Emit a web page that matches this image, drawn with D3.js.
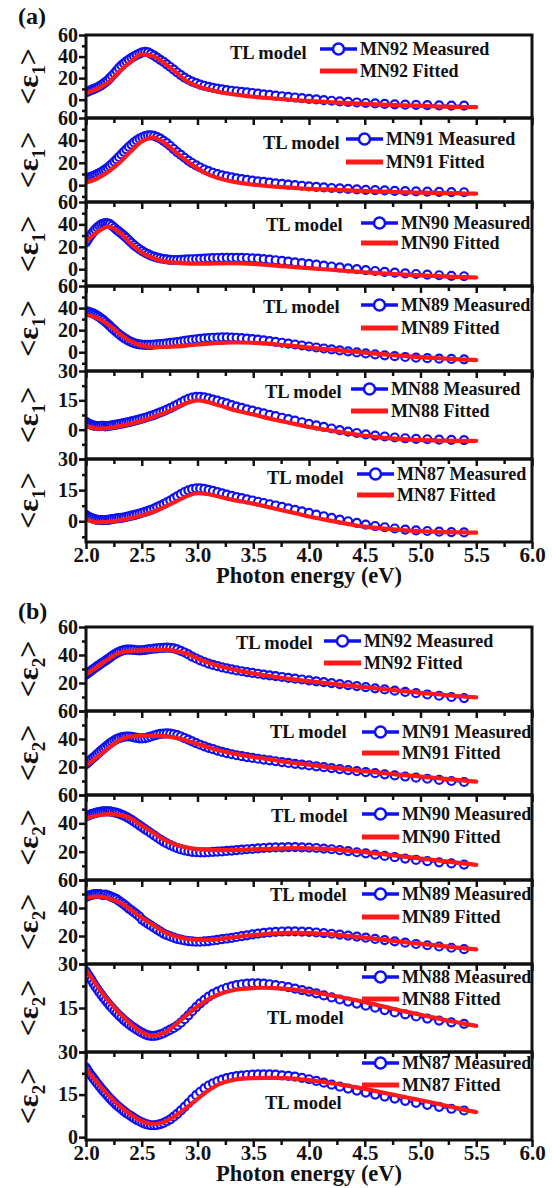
<!DOCTYPE html>
<html>
<head>
<meta charset="utf-8">
<script src="https://cdn.jsdelivr.net/npm/d3@7"></script>
<style>
  html, body { margin: 0; padding: 0; background: #fff; }
  svg text { font-family: "Liberation Serif", "Times New Roman", serif; font-weight: bold; fill: #111; }
</style>
</head>
<body>
<div id="chart"></div>
<script>
// Photon energy of the measured points (eV)
const energy = [2.000,2.016,2.033,2.050,2.067,2.084,2.102,2.120,2.138,2.157,
  2.175,2.195,2.214,2.234,2.255,2.275,2.296,2.318,2.340,2.362,
  2.385,2.408,2.431,2.455,2.480,2.505,2.531,2.557,2.583,2.611,
  2.638,2.667,2.696,2.725,2.756,2.787,2.818,2.851,2.884,2.918,
  2.952,2.988,3.024,3.062,3.100,3.139,3.179,3.221,3.263,3.307,
  3.351,3.397,3.444,3.493,3.543,3.594,3.647,3.701,3.758,3.815,
  3.875,3.937,4.000,4.066,4.133,4.203,4.276,4.351,4.429,4.509,
  4.593,4.679,4.769,4.863,4.960,5.061,5.167,5.277,5.391];

// Photon energy of the fitted (TL model) curves (eV)
const fitEnergy = [2.0,2.1,2.2,2.3,2.4,2.5,2.6,2.7,2.8,2.9,3.0,3.1,3.2,3.3,3.4,3.5,3.6,3.7,
  3.8,3.9,4.0,4.1,4.2,4.3,4.4,4.5,4.6,4.7,4.8,4.9,5.0,5.1,5.2,5.3,5.4,5.5];

const xTicks = [2.0, 2.5, 3.0, 3.5, 4.0, 4.5, 5.0, 5.5, 6.0];

// ---- (a) <e1> measured ----
const e1MN92 = [7,7.5,8.3,9,9.8,10.5,11.3,12.3,13.5,14.8,16.2,18,20,22.2,24.5,27,29.5,31.8,33.8,35.5,
  37.2,38.8,40.2,41.5,42.8,43.8,44.3,43.8,42.5,40.8,39,37,35,32.8,30.3,27.8,25.2,22.8,20.5,18.5,
  16.8,15.3,14,12.9,11.9,11,10.2,9.5,8.9,8.3,7.8,7.3,6.8,6.2,5.6,5,4.4,3.8,3.2,2.6,
  2,1.4,0.8,0.2,-0.4,-1,-1.6,-2.1,-2.6,-3.1,-3.5,-3.9,-4.3,-4.6,-4.9,-5.1,-5.3,-5.5,-5.6];
const e1MN91 = [6,6.5,7,7.6,8.2,9,9.8,10.8,11.8,13,14.2,15.6,17.2,19,21,23,25.2,27.5,29.8,32,
  34.2,36.3,38.2,40,41.5,42.8,43.8,44.4,44.5,44,43,41.5,39.6,37.5,35,32.3,29.6,27,24.5,22,
  19.8,17.7,15.8,14,12.5,11.1,9.9,8.8,7.8,6.9,6.1,5.4,4.7,4.1,3.5,2.9,2.3,1.7,1.1,0.5,
  0,-0.5,-1,-1.5,-2,-2.5,-2.9,-3.3,-3.7,-4.1,-4.4,-4.7,-5,-5.3,-5.5,-5.7,-5.9,-6.1,-6.3];
const e1MN90 = [24,26.5,29,31.3,33.5,35.5,37.3,38.8,40,40.8,41.2,41,40.2,38.8,37,35.2,33.5,31.8,29.9,28,
  25.8,23.6,21.5,19.6,17.8,16.2,14.7,13.4,12.2,11.2,10.4,9.7,9.1,8.7,8.4,8.2,8.2,8.3,8.5,8.7,
  8.9,9.1,9.3,9.5,9.7,9.9,10,10.1,10.2,10.2,10.2,10.1,10,9.7,9.4,9,8.5,8,7.4,6.8,
  6.1,5.4,4.7,4,3.2,2.4,1.6,0.8,0,-0.8,-1.6,-2.3,-3,-3.7,-4.3,-4.9,-5.4,-5.9,-6.3];
const e1MN89 = [37,36.7,36.2,35.6,34.9,34,33,31.8,30.5,29,27.4,25.6,23.8,21.9,20,18.1,16.3,14.6,13,11.6,
  10.3,9.2,8.3,7.6,7.1,6.8,6.6,6.6,6.7,6.9,7.1,7.4,7.7,8,8.4,8.8,9.2,9.7,10.2,10.7,
  11.2,11.7,12.1,12.5,12.8,13.1,13.3,13.4,13.4,13.3,13.1,12.8,12.4,11.9,11.4,10.8,10.1,9.4,8.6,7.8,
  7,6.1,5.2,4.3,3.4,2.5,1.6,0.7,-0.2,-1.1,-2,-2.8,-3.6,-4.3,-4.9,-5.4,-5.8,-6.1,-6.4];
const e1MN88 = [4,3.3,2.8,2.4,2.1,1.9,1.8,1.8,1.9,2,1.7,1.8,2,2.2,2.4,2.6,2.8,3.1,3.3,3.6,
  3.9,4.2,4.5,4.9,5.3,5.7,6.1,6.6,7.1,7.6,8.2,8.8,9.5,10.2,11,11.9,12.8,13.8,14.8,15.7,
  16.4,16.8,16.8,16.5,16,15.4,14.8,14.1,13.4,12.6,11.8,11.1,10.4,9.7,9,8.3,7.6,6.9,6.1,5.4,
  4.6,3.8,3,2.2,1.4,0.6,-0.2,-1,-1.7,-2.4,-3,-3.5,-4,-4.4,-4.7,-4.9,-5.1,-5.2,-5.3];
const e1MN87 = [3,2.4,1.9,1.5,1.2,0.9,0.7,0.6,0.5,0.5,0.6,0.7,0.8,1,1.2,1.4,1.5,1.6,1.8,2.1,
  2.4,2.7,3,3.3,3.7,4.1,4.5,5,5.5,6.1,6.8,7.5,8.3,9.1,10,11,12,13.1,14.1,14.9,
  15.5,15.8,15.8,15.6,15.1,14.6,14,13.4,12.8,12.2,11.6,11.1,10.5,10,9.4,8.8,8.2,7.6,6.9,6.2,
  5.5,4.8,4,3.2,2.4,1.6,0.8,0,-0.8,-1.6,-2.3,-2.9,-3.5,-4,-4.4,-4.7,-5,-5.2,-5.4];

// ---- (a) <e1> TL model fits ----
const e1MN92Fit = [6,10,16,26,35,42,40.5,34,26,17.5,12.5,9.5,7,5.3,4,2.7,1.8,1,0.2,-0.6,-1.2,-1.8,-2.4,-2.9,
  -3.4,-3.9,-4.3,-4.7,-5.1,-5.4,-5.8,-6.1,-6.4,-6.6,-6.8,-7];
const e1MN91Fit = [2.5,6,12,20,30,39,42.5,38,30,22,15,9.5,6,3.5,1.8,0.5,-0.5,-1.3,-2,-2.7,-3.2,-3.6,-4,-4.4,
  -4.8,-5.2,-5.5,-5.8,-6.1,-6.4,-6.6,-6.8,-7,-7.2,-7.4,-7.5];
const e1MN90Fit = [25,33,38,33,23,15,10,7,5.8,5.2,5,5,5.2,5.3,5.2,4.8,4,3.2,2.4,1.6,0.9,0.2,-0.5,-1.3,
  -2,-2.7,-3.3,-3.9,-4.5,-5,-5.5,-6,-6.4,-6.8,-7.1,-7.4];
const e1MN89Fit = [34,31,25,17,10,6,4.8,4.8,5.3,6,7,7.8,8.4,8.8,8.8,8.5,8,7.2,6.3,5.3,4.3,3.3,2.4,1.4,
  0.5,-0.4,-1.3,-2.2,-3,-3.8,-4.5,-5.1,-5.7,-6.2,-6.7,-7.1];
const e1MN88Fit = [2,0.5,0.8,1.8,3,4.5,6.3,8.5,11,13.5,15,14,12.3,10.5,9,7.8,6.3,5,3.8,2.6,1.4,0.4,-0.5,-1.4,
  -2.3,-3.1,-3.7,-4.3,-4.7,-5.1,-5.3,-5.5,-5.6,-5.7,-5.7,-5.7];
const e1MN87Fit = [1,-0.5,-0.3,0.5,1.5,2.8,4.5,6.8,9.3,12,13.5,13,11.8,10.5,9.5,8.5,7.3,6,4.8,3.6,2.3,1.2,0.2,-0.8,
  -1.8,-2.6,-3.2,-3.7,-4.1,-4.5,-4.8,-5,-5.2,-5.3,-5.4,-5.5];

// ---- (b) <e2> measured ----
const e2MN92 = [26,27,28,29,30,31,32,33,34,35,36,37.1,38.2,39.3,40.4,41.4,42.3,43,43.5,43.8,
  43.9,43.8,43.6,43.4,43.3,43.4,43.7,44,44.3,44.6,44.8,45,45.1,45.2,45.1,44.7,44,43,41.8,40.4,
  38.9,37.5,36.2,35,33.9,32.9,32,31.2,30.4,29.7,29,28.4,27.8,27.2,26.6,26,25.5,24.9,24.3,23.7,
  23.1,22.5,21.9,21.2,20.6,19.9,19.2,18.5,17.8,17,16.2,15.4,14.5,13.6,12.7,11.8,10.9,10,9.2];
const e2MN91 = [22,23.2,24.4,25.6,26.8,28,29.3,30.6,31.9,33.2,34.4,35.7,36.9,38,39,39.9,40.6,41.2,41.6,41.8,
  41.8,41.6,41.2,40.8,40.5,40.4,40.6,41.1,41.8,42.5,43.1,43.6,43.9,44,43.8,43.4,42.7,41.8,40.7,39.5,
  38.3,37.1,35.9,34.8,33.7,32.7,31.7,30.8,29.9,29.1,28.4,27.7,27.1,26.5,25.9,25.3,24.7,24.1,23.5,22.9,
  22.3,21.7,21.1,20.5,19.9,19.2,18.5,17.8,17.1,16.4,15.6,14.8,14,13.2,12.4,11.6,10.8,10,9.3];
const e2MN90 = [45,45.5,46,46.5,46.9,47.3,47.7,48,48.2,48.4,48.5,48.5,48.4,48.1,47.8,47.4,46.9,46.2,45.4,44.5,
  43.5,42.4,41.2,39.9,38.6,37.2,35.8,34.4,33,31.5,30,28.5,27.1,25.8,24.6,23.5,22.5,21.6,20.9,20.3,
  19.9,19.6,19.5,19.5,19.6,19.8,20,20.2,20.5,20.8,21.1,21.4,21.7,22,22.3,22.6,22.8,23,23.1,23.2,
  23.2,23.1,22.9,22.6,22.2,21.7,21.1,20.4,19.6,18.8,17.9,17,16.1,15.1,14.2,13.3,12.5,11.7,10.9];
const e2MN89 = [48,48.5,49,49.4,49.7,49.9,50,49.9,49.6,49.1,49.5,49.1,48.5,47.8,47,46.3,45.1,43.9,42.6,41.2,
  39.6,38.3,36.9,35.4,33.8,31.5,30.1,28.7,27.4,25.9,24.6,23.2,21.7,20.7,19.7,18.8,18,17.4,16.8,16.4,
  16.1,15.9,15.9,16.1,16.4,16.8,17.2,17.7,18.2,18.7,19.3,19.9,20.5,21.1,21.7,22.2,22.6,23,23.2,23.3,
  23.3,23.1,22.9,22.5,22.1,21.6,21,20.3,19.6,18.8,17.9,17.1,16.2,15.2,14.3,13.4,12.5,11.6,10.6];
const e2MN88 = [27.5,26.5,25.5,24.5,23.4,22.4,21.4,20.4,19.5,18.5,17.6,16.7,15.8,15,14.1,13.3,12.5,11.7,10.9,10.2,
  9.5,8.8,8.2,7.6,7,6.5,6,5.7,5.5,5.5,5.7,6,6.4,7,7.6,8.2,9,10,11.2,12.5,
  13.9,15.3,16.6,17.8,18.9,19.8,20.6,21.3,21.9,22.4,22.8,23.1,23.3,23.4,23.4,23.3,23.1,22.8,22.5,22.1,
  21.6,21.1,20.6,20,19.3,18.6,17.9,17.2,16.5,15.8,15.1,14.3,13.5,12.8,12.1,11.4,10.7,10.1,9.6];
const e2MN87 = [24.5,23.5,22.5,21.6,20.7,19.8,18.9,18,17.1,16.2,15.4,14.5,13.7,12.9,12.1,11.3,10.6,9.9,9.2,8.5,
  7.9,7.3,6.7,6.1,5.6,5.1,4.7,4.4,4.2,4.2,4.3,4.6,5,5.6,6.3,7.2,8.2,9.4,10.7,12,
  13.4,14.8,16,17.2,18.2,19,19.7,20.3,20.8,21.2,21.5,21.7,21.9,22,22.1,22.1,22.1,22,21.8,21.6,
  21.3,20.9,20.4,19.8,19.2,18.5,17.8,17.1,16.4,15.7,15,14.3,13.6,12.8,12.1,11.4,10.7,10,9.4];

// ---- (b) <e2> TL model fits ----
const e2MN92Fit = [26,31.5,37,41.5,43,43.3,43.5,43.6,43,41,37.5,34.5,32,30,28.3,26.8,25.5,24.3,23.2,22.2,
  21.3,20.4,19.5,18.6,17.8,17,16.2,15.4,14.6,13.8,13,12.3,11.6,10.9,10.3,9.7];
const e2MN91Fit = [21,27,33.5,39,41.8,42.2,42.2,42,41,39,36.5,34,31.8,30,28.5,27.2,26,24.8,23.6,22.6,
  21.6,20.6,19.6,18.7,17.8,17,16.2,15.4,14.6,13.9,13.2,12.4,11.7,11,10.3,9.6];
const e2MN90Fit = [43.5,45.5,46.5,46,43.5,38.5,33.5,28.5,25,23,21.8,21.3,21.1,21.1,21.3,21.6,21.9,22.2,22.4,22.5,
  22.4,22.1,21.7,21.1,20.4,19.6,18.8,17.9,17,16.1,15.2,14.3,13.4,12.5,11.6,10.7];
const e2MN89Fit = [47,48.2,47,44,39,33,28,23,19.8,18,17.2,17.3,17.9,18.8,19.8,20.7,21.4,21.9,22.2,22.3,
  22.1,21.7,21.1,20.4,19.6,18.8,17.9,17,16.1,15.2,14.4,13.6,12.8,12,11.2,10.5];
const e2MN88Fit = [28,22.5,17.5,13.3,9.6,6.8,5.5,6.5,9.2,12.5,15.5,18,19.8,20.9,21.5,21.8,21.9,21.8,21.5,21.1,
  20.6,20,19.3,18.6,17.8,17,16.1,15.2,14.3,13.5,12.7,11.9,11.1,10.3,9.6,8.9];
const e2MN87Fit = [24,19.3,14.8,11,8,5.7,4.6,5.3,7.5,10.3,13.5,16.5,18.8,20,20.6,20.8,20.9,20.9,20.8,20.5,
  20.1,19.6,19,18.4,17.7,17,16.2,15.4,14.6,13.8,13,12.2,11.3,10.5,9.6,8.8];

// panel layout: top / bottom in px, y domain, major tick step, legend placement
const panels = [
  { top: 35,  bottom: 118, domain: [-17, 60], step: 20, sub: "1", name: "MN92", meas: e1MN92, fit: e1MN92Fit, tl: [230, 18], leg: [320, 14, 36] },
  { top: 118, bottom: 202, domain: [-15, 60], step: 20, sub: "1", name: "MN91", meas: e1MN91, fit: e1MN91Fit, tl: [263, 25], leg: [346, 21, 44] },
  { top: 202, bottom: 286, domain: [-15, 60], step: 20, sub: "1", name: "MN90", meas: e1MN90, fit: e1MN90Fit, tl: [266, 23], leg: [361, 21, 41] },
  { top: 286, bottom: 371, domain: [-17, 60], step: 20, sub: "1", name: "MN89", meas: e1MN89, fit: e1MN89Fit, tl: [263, 21], leg: [361, 19, 42] },
  { top: 371, bottom: 459, domain: [-15, 30], step: 15, sub: "1", name: "MN88", meas: e1MN88, fit: e1MN88Fit, tl: [265, 21], leg: [351, 18, 40] },
  { top: 459, bottom: 542, domain: [-10, 30], step: 15, sub: "1", name: "MN87", meas: e1MN87, fit: e1MN87Fit, tl: [267, 19], leg: [357, 15, 36], last: true },
  { top: 627, bottom: 711, domain: [0, 60], step: 20, sub: "2", name: "MN92", meas: e2MN92, fit: e2MN92Fit, tl: [236, 16], leg: [324, 14, 36] },
  { top: 711, bottom: 795, domain: [0, 60], step: 20, sub: "2", name: "MN91", meas: e2MN91, fit: e2MN91Fit, tl: [270, 21], leg: [362, 21, 42] },
  { top: 795, bottom: 880, domain: [0, 60], step: 20, sub: "2", name: "MN90", meas: e2MN90, fit: e2MN90Fit, tl: [271, 21], leg: [362, 19, 42] },
  { top: 880, bottom: 964, domain: [0, 60], step: 20, sub: "2", name: "MN89", meas: e2MN89, fit: e2MN89Fit, tl: [270, 15], leg: [362, 14, 37] },
  { top: 964, bottom: 1052, domain: [0, 30], step: 15, sub: "2", name: "MN88", meas: e2MN88, fit: e2MN88Fit, tl: [267, 54], leg: [362, 13, 35] },
  { top: 1052, bottom: 1140, domain: [-1, 30], step: 15, sub: "2", name: "MN87", meas: e2MN87, fit: e2MN87Fit, tl: [265, 51], leg: [362, 11, 33], last: true }
];

const width = 552, height = 1188;
const left = 86, right = 532;
const blue = "#1010f0", red = "#ff1a1a";
const serif = "'Liberation Serif', 'Times New Roman', serif";

const svg = d3.select("#chart").append("svg")
  .attr("width", width)
  .attr("height", height)
  .attr("viewBox", [0, 0, width, height]);

const x = d3.scaleLinear().domain([2, 6]).range([left, right]);
const xMinor = d3.range(2.25, 6, 0.5);

panels.forEach((p, i) => {
  const y = d3.scaleLinear().domain(p.domain).range([p.bottom, p.top]);
  const g = svg.append("g");

  // clip the data to the frame
  const clipId = `clip-${i}`;
  svg.append("clipPath").attr("id", clipId)
    .append("rect")
    .attr("x", left).attr("y", p.top)
    .attr("width", right - left).attr("height", p.bottom - p.top);

  const data = g.append("g").attr("clip-path", `url(#${clipId})`);
  const pts = energy.map((e, k) => ({ e, v: p.meas[k] }));

  data.append("path")
    .datum(pts)
    .attr("fill", "none")
    .attr("stroke", blue)
    .attr("stroke-width", 2)
    .attr("d", d3.line().x(d => x(d.e)).y(d => y(d.v)));

  data.selectAll("circle")
    .data(pts)
    .join("circle")
    .attr("cx", d => x(d.e))
    .attr("cy", d => y(d.v))
    .attr("r", 4)
    .attr("fill", "#fff")
    .attr("stroke", blue)
    .attr("stroke-width", 2.2);

  data.append("path")
    .datum(fitEnergy.map((e, k) => ({ e, v: p.fit[k] })))
    .attr("fill", "none")
    .attr("stroke", red)
    .attr("stroke-width", 4.2)
    .attr("stroke-linecap", "round")
    .attr("d", d3.line().curve(d3.curveMonotoneX).x(d => x(d.e)).y(d => y(d.v)));

  // x axis ticks (outward), labels only on the last panel of each group
  const xAxis = g.append("g").attr("transform", `translate(0,${p.bottom})`);
  xAxis.call(d3.axisBottom(x).tickValues(xTicks).tickSize(7)
    .tickFormat(p.last ? d3.format(".1f") : ""));
  xAxis.append("g").call(d3.axisBottom(x).tickValues(xMinor).tickSize(5).tickFormat(""));
  xAxis.selectAll(".domain").remove();
  xAxis.selectAll("line").attr("stroke", "#111").attr("stroke-width", 2.5);
  xAxis.selectAll("text")
    .attr("font-size", 21)
    .attr("y", 5)
    .attr("fill", "#111");

  // y axis
  const major = d3.range(Math.ceil(p.domain[0] / p.step) * p.step, p.domain[1] + 0.01, p.step);
  const half = p.step / 2;
  const minor = d3.range(Math.ceil(p.domain[0] / half) * half, p.domain[1] + 0.01, half)
    .filter(v => !major.includes(v));
  const yAxis = g.append("g").attr("transform", `translate(${left},0)`);
  yAxis.call(d3.axisLeft(y).tickValues(major).tickSize(7)
    .tickFormat(v => (y(v) <= p.bottom - 1 ? d3.format("d")(v) : "")));
  yAxis.append("g").call(d3.axisLeft(y).tickValues(minor).tickSize(4).tickFormat(""));
  yAxis.selectAll(".domain").remove();
  yAxis.selectAll("line").attr("stroke", "#111").attr("stroke-width", 2.5);
  yAxis.selectAll("text")
    .attr("font-size", 20)
    .attr("x", -8)
    .attr("fill", "#111");
  xAxis.attr("font-family", serif);
  yAxis.attr("font-family", serif);

  // frame
  g.append("rect")
    .attr("x", left).attr("y", p.top)
    .attr("width", right - left).attr("height", p.bottom - p.top)
    .attr("fill", "none")
    .attr("stroke", "#111")
    .attr("stroke-width", 3);

  // y title <e1> / <e2>
  const yt = g.append("text")
    .attr("transform", `translate(38,${(p.top + p.bottom) / 2}) rotate(-90)`)
    .attr("text-anchor", "middle")
    .attr("font-size", 30);
  yt.append("tspan").text("<ε");
  yt.append("tspan").attr("font-size", 19).attr("dy", 7).text(p.sub);
  yt.append("tspan").attr("dy", -7).text(">");

  // legend
  g.append("text")
    .attr("x", p.tl[0]).attr("y", p.top + p.tl[1])
    .attr("dy", "0.35em")
    .attr("font-size", 18.5)
    .text("TL model");

  const [lx, r1, r2] = p.leg;
  g.append("line")
    .attr("x1", lx).attr("x2", lx + 37)
    .attr("y1", p.top + r1).attr("y2", p.top + r1)
    .attr("stroke", blue).attr("stroke-width", 3.5);
  g.append("circle")
    .attr("cx", lx + 18.5).attr("cy", p.top + r1).attr("r", 5.5)
    .attr("fill", "#fff").attr("stroke", blue).attr("stroke-width", 2.5);
  g.append("text")
    .attr("x", lx + 40).attr("y", p.top + r1).attr("dy", "0.35em")
    .attr("font-size", 18)
    .text(`${p.name} Measured`);
  g.append("line")
    .attr("x1", lx).attr("x2", lx + 37)
    .attr("y1", p.top + r2).attr("y2", p.top + r2)
    .attr("stroke", red).attr("stroke-width", 5);
  g.append("text")
    .attr("x", lx + 40).attr("y", p.top + r2).attr("dy", "0.35em")
    .attr("font-size", 18)
    .text(`${p.name} Fitted`);

  if (p.last) {
    g.append("text")
      .attr("x", (left + right) / 2)
      .attr("y", p.bottom + 41)
      .attr("text-anchor", "middle")
      .attr("font-size", 22.5)
      .text("Photon energy (eV)");
  }
});

// panel letters
svg.append("text").attr("x", 18).attr("y", 24).attr("font-size", 24).text("(a)");
svg.append("text").attr("x", 18).attr("y", 619).attr("font-size", 24).text("(b)");
</script>
</body>
</html>
